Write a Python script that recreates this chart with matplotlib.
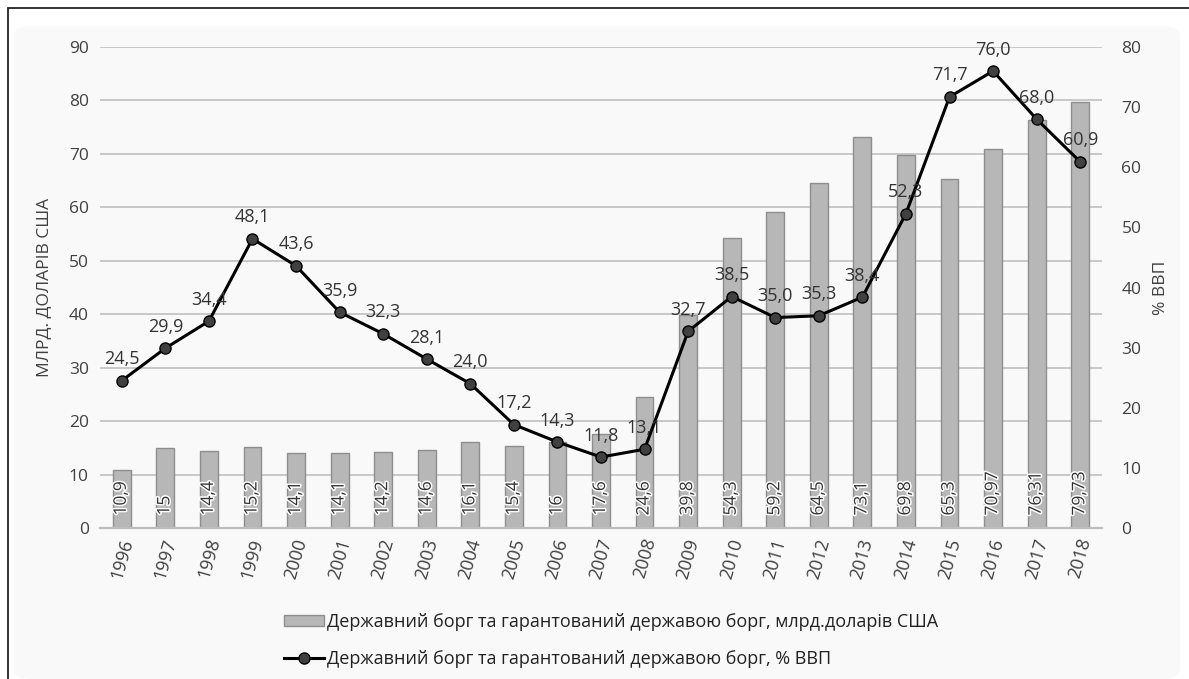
import numpy as np
import matplotlib
matplotlib.use('Agg')
import matplotlib.pyplot as plt
import matplotlib.patheffects as pe
from matplotlib.patches import FancyBboxPatch, Rectangle

years = ['1996', '1997', '1998', '1999', '2000', '2001', '2002', '2003',
         '2004', '2005', '2006', '2007', '2008', '2009', '2010', '2011',
         '2012', '2013', '2014', '2015', '2016', '2017', '2018']

# млрд. доларів США
debt_usd = [10.9, 15, 14.4, 15.2, 14.1, 14.1, 14.2, 14.6, 16.1, 15.4, 16,
            17.6, 24.6, 39.8, 54.3, 59.2, 64.5, 73.1, 69.8, 65.3, 70.97,
            76.31, 79.73]
debt_usd_lbl = ['10,9', '15', '14,4', '15,2', '14,1', '14,1', '14,2', '14,6',
                '16,1', '15,4', '16', '17,6', '24,6', '39,8', '54,3', '59,2',
                '64,5', '73,1', '69,8', '65,3', '70,97', '76,31', '79,73']

# % ВВП
debt_gdp = [24.5, 29.9, 34.4, 48.1, 43.6, 35.9, 32.3, 28.1, 24.0, 17.2, 14.3,
            11.8, 13.1, 32.7, 38.5, 35.0, 35.3, 38.4, 52.3, 71.7, 76.0, 68.0,
            60.9]

legend_bar = 'Державний борг та гарантований державою борг, млрд.доларів США'
legend_line = 'Державний борг та гарантований державою борг, % ВВП'

plt.rcParams['font.family'] = ['Open Sans', 'DejaVu Sans']
txt = '#404040'
fs = 12.5

fig = plt.figure(figsize=(11.89, 6.79), dpi=100)
fig.patch.set_facecolor('white')

# outer frame and light panel
fig.patches.append(Rectangle((8/1189, -0.1), 1.2, 1 - 8/679 + 0.1,
                             transform=fig.transFigure, fill=False,
                             edgecolor='#222222', lw=1.3, zorder=-2))
fig.patches.append(FancyBboxPatch((14/1189, 0.0), 1166/1189, 1 - 26/679,
                                  boxstyle='round,pad=0,rounding_size=0.015',
                                  transform=fig.transFigure,
                                  facecolor='#f9f9f9', edgecolor='none',
                                  zorder=-2))

ax = fig.add_axes([100/1189, 1 - 528/679, 1002/1189, 481/679])
ax.set_facecolor('none')
x = np.arange(len(years))

bars = ax.bar(x, debt_usd, width=0.41, color='#b7b7b7', edgecolor='#8e8e8e',
              linewidth=1.0, zorder=2)
for xi, lbl in zip(x, debt_usd_lbl):
    ax.annotate(lbl, (xi, 0), xytext=(0, 9), textcoords='offset points',
                rotation=90, ha='center', va='bottom', fontsize=fs,
                color='#333333', zorder=5,
                path_effects=[pe.withStroke(linewidth=2.2, foreground='white')])

ax.set_xlim(-0.5, len(years) - 0.5)
ax.set_ylim(0, 90)
ax.set_yticks(np.arange(0, 91, 10))
ax.grid(axis='y', color='#c8c8c8', lw=1.4, zorder=0)
ax.set_axisbelow(True)
for s in ['top', 'right', 'left']:
    ax.spines[s].set_visible(False)
ax.spines['bottom'].set_color('#bdbdbd')
ax.spines['bottom'].set_linewidth(1.6)
ax.tick_params(axis='both', length=0, labelsize=fs, colors=txt, pad=8)
ax.tick_params(axis='x', pad=6, labelsize=13)
ax.set_xticks(x)
ax.set_xticklabels(years, rotation=74, ha='center')
ax.set_ylabel('МЛРД. ДОЛАРІВ США', fontsize=fs, color=txt, labelpad=12)

ax2 = ax.twinx()
ax2.set_ylim(0, 80)
ax2.set_yticks(np.arange(0, 81, 10))
for s in ax2.spines.values():
    s.set_visible(False)
ax2.tick_params(axis='y', length=0, labelsize=fs, colors=txt, pad=14)
ax2.set_ylabel('% ВВП', fontsize=fs, color=txt, labelpad=8)
ln, = ax2.plot(x, debt_gdp, color='black', lw=2.2, marker='o', ms=8,
               markerfacecolor='#404040', markeredgecolor='black',
               markeredgewidth=1.0, zorder=4)
for xi, v in zip(x, debt_gdp):
    ax2.annotate(f'{v:.1f}'.replace('.', ','), (xi, v), xytext=(0, 9),
                 textcoords='offset points', ha='center', va='bottom',
                 fontsize=13, color='#333333', zorder=6)

h1 = plt.Rectangle((0, 0), 1, 1, facecolor='#b7b7b7', edgecolor='#8e8e8e')
fig.legend([h1], [legend_bar], loc='center left',
           bbox_to_anchor=(268/1189, 1 - 622/679), frameon=False, fontsize=13,
           handlelength=2.2, handleheight=0.5, handletextpad=0.15,
           labelcolor='#222222')
fig.legend([ln], [legend_line], loc='center left',
           bbox_to_anchor=(268/1189, 1 - 659/679), frameon=False, fontsize=13,
           handlelength=2.2, handletextpad=0.15, labelcolor='#222222')

fig.savefig('out.png', dpi=100)
